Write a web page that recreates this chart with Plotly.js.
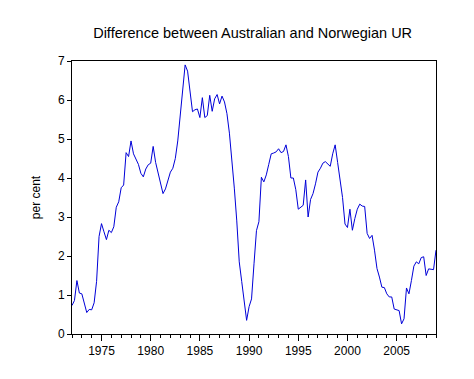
<!DOCTYPE html>
<html>
<head>
<meta charset="utf-8">
<script src="https://cdn.plot.ly/plotly-3.0.1.min.js"></script>
<style>html,body{margin:0;padding:0;background:#fff;}#chart{width:474px;height:379px;}</style>
</head>
<body>
<div id="chart"></div>
<script>
// Quarterly observations, 1972Q1 .. 2009Q1
var startYear = 1972;
var diffUR = [
  0.73, 0.86, 1.37, 1.05,
  1.03, 0.77, 0.55, 0.63,
  0.62, 0.80, 1.35, 2.50,
  2.83, 2.62, 2.42, 2.66,
  2.60, 2.75, 3.25, 3.39,
  3.75, 3.82, 4.65, 4.55,
  4.95, 4.62, 4.50, 4.35,
  4.12, 4.03, 4.23, 4.34,
  4.38, 4.81, 4.40, 4.15,
  3.90, 3.60, 3.72, 3.95,
  4.15, 4.25, 4.50, 4.95,
  5.58, 6.30, 6.90, 6.74,
  6.15, 5.70, 5.75, 5.77,
  5.55, 6.06, 5.55, 5.60,
  6.12, 5.71, 6.03, 6.14,
  5.90, 6.10, 5.95, 5.65,
  5.15, 4.50, 3.74, 2.90,
  1.85, 1.35, 0.90, 0.35,
  0.70, 0.90, 1.80, 2.65,
  2.88, 4.02, 3.90, 4.08,
  4.35, 4.62, 4.64, 4.67,
  4.75, 4.65, 4.68, 4.85,
  4.55, 4.00, 4.00, 3.70,
  3.20, 3.24, 3.30, 3.95,
  3.00, 3.45, 3.60, 3.85,
  4.15, 4.25, 4.38, 4.42,
  4.35, 4.30, 4.62, 4.85,
  4.40, 3.95, 3.50, 2.82,
  2.73, 3.20, 2.66, 2.96,
  3.20, 3.33, 3.28, 3.27,
  2.58, 2.45, 2.53, 2.15,
  1.68, 1.46, 1.20, 1.19,
  1.03, 0.95, 0.95, 0.64,
  0.62, 0.60, 0.26, 0.39,
  1.18, 1.03, 1.37, 1.74,
  1.85, 1.80, 1.96, 1.98,
  1.50, 1.67, 1.66, 1.65,
  2.15
];
var xTickVals = [1975, 1980, 1985, 1990, 1995, 2000, 2005];
var xTickText = ["1975", "1980", "1985", "1990", "1995", "2000", "2005"];
var yTickVals = [0, 1, 2, 3, 4, 5, 6, 7];

var quarters = diffUR.map(function (v, i) { return startYear + i / 4; });

var trace = {
  x: quarters,
  y: diffUR,
  type: 'scatter',
  mode: 'lines',
  line: {color: '#0000d8', width: 1},
  hoverinfo: 'skip'
};

var layout = {
  width: 474,
  height: 379,
  margin: {l: 72, r: 38, t: 61, b: 45},
  paper_bgcolor: '#ffffff',
  plot_bgcolor: '#ffffff',
  showlegend: false,
  font: {family: 'Liberation Sans, Arial, sans-serif', size: 12, color: '#000'},
  title: {
    text: 'Difference between Australian and Norwegian UR',
    font: {family: 'Liberation Sans, Arial, sans-serif', size: 14.5, color: '#000'},
    x: 0.533, xanchor: 'center', y: 0.913, yanchor: 'middle'
  },
  xaxis: {
    range: [1972, 2009],
    showgrid: false, zeroline: false,
    showline: true, linecolor: '#000', linewidth: 1, mirror: true,
    tickmode: 'array', tickvals: xTickVals, ticktext: xTickText,
    ticks: 'outside', ticklen: 6, tickwidth: 1, tickcolor: '#000',
    minor: {dtick: 1, tick0: 1972, ticks: 'outside', ticklen: 3, tickcolor: '#000', showgrid: false},
    tickfont: {size: 12}
  },
  yaxis: {
    range: [0, 7],
    showgrid: false, zeroline: false,
    showline: true, linecolor: '#000', linewidth: 1, mirror: true,
    tickmode: 'array', tickvals: yTickVals,
    ticks: 'outside', ticklen: 4, tickwidth: 1, tickcolor: '#000',
    tickfont: {size: 12},
    title: {text: 'per cent', font: {size: 12}, standoff: 14}
  }
};

Plotly.newPlot('chart', [trace], layout, {staticPlot: true, displayModeBar: false});
</script>
</body>
</html>
